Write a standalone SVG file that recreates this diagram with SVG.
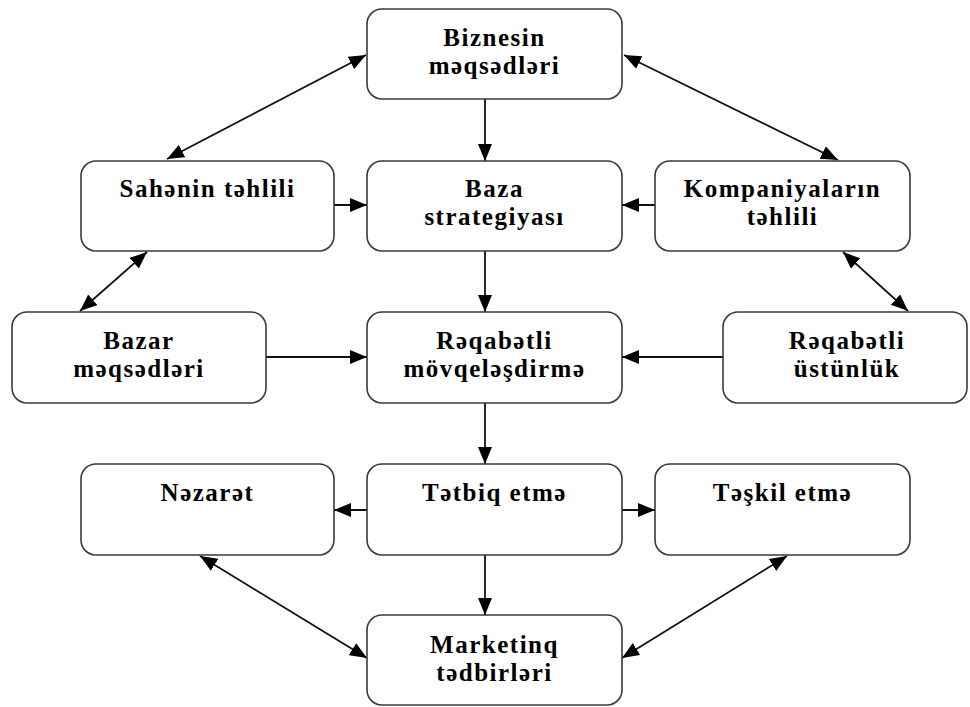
<svg xmlns="http://www.w3.org/2000/svg" width="970" height="707" viewBox="0 0 970 707">
  <style>
    .box { fill: #ffffff; stroke: #3a3a3a; stroke-width: 1.6; }
    .lbl { font-family: "Liberation Serif", "Times New Roman", serif; font-weight: bold; font-size: 25px; letter-spacing: 1.5px; fill: #000000; text-anchor: middle; }
    .con { stroke: #111111; stroke-width: 1.8; fill: none; }
  </style>
  <defs>
    <marker id="ah" markerUnits="userSpaceOnUse" markerWidth="17" markerHeight="14" refX="17" refY="7" orient="auto-start-reverse">
      <path d="M0,0 L17,7 L0,14 z" fill="#000000"/>
    </marker>
  </defs>
  <rect x="0" y="0" width="970" height="707" fill="#ffffff"/>

  <g id="connectors">
    <line class="con" x1="485" y1="99" x2="485" y2="161" marker-end="url(#ah)"/>
    <line class="con" x1="485" y1="251" x2="485" y2="312" marker-end="url(#ah)"/>
    <line class="con" x1="485" y1="403" x2="485" y2="464" marker-end="url(#ah)"/>
    <line class="con" x1="485" y1="555" x2="485" y2="615" marker-end="url(#ah)"/>
    <line class="con" x1="334" y1="205" x2="367" y2="205" marker-end="url(#ah)"/>
    <line class="con" x1="655" y1="205" x2="622" y2="205" marker-end="url(#ah)"/>
    <line class="con" x1="266" y1="357" x2="367" y2="357" marker-end="url(#ah)"/>
    <line class="con" x1="723" y1="357" x2="622" y2="357" marker-end="url(#ah)"/>
    <line class="con" x1="367" y1="510" x2="334" y2="510" marker-end="url(#ah)"/>
    <line class="con" x1="622" y1="510" x2="655" y2="510" marker-end="url(#ah)"/>
    <line class="con" x1="167" y1="159" x2="366" y2="55" marker-start="url(#ah)" marker-end="url(#ah)"/>
    <line class="con" x1="624" y1="55" x2="838" y2="160" marker-start="url(#ah)" marker-end="url(#ah)"/>
    <line class="con" x1="147" y1="252" x2="80" y2="311" marker-start="url(#ah)" marker-end="url(#ah)"/>
    <line class="con" x1="843" y1="252" x2="908" y2="311" marker-start="url(#ah)" marker-end="url(#ah)"/>
    <line class="con" x1="200" y1="556" x2="367" y2="658" marker-start="url(#ah)" marker-end="url(#ah)"/>
    <line class="con" x1="787" y1="556" x2="622" y2="658" marker-start="url(#ah)" marker-end="url(#ah)"/>
  </g>

  <g id="biznesin">
    <rect class="box" x="367" y="9" width="255" height="90" rx="15"/>
    <text class="lbl" x="494.5" y="46">Biznesin</text>
    <text class="lbl" x="494.5" y="74">məqsədləri</text>
  </g>
  <g id="sahenin">
    <rect class="box" x="81" y="161" width="253" height="90" rx="15"/>
    <text class="lbl" x="207.5" y="197">Sahənin təhlili</text>
  </g>
  <g id="baza">
    <rect class="box" x="367" y="161" width="255" height="90" rx="15"/>
    <text class="lbl" x="494.5" y="197">Baza</text>
    <text class="lbl" x="494.5" y="225">strategiyası</text>
  </g>
  <g id="kompaniyalarin">
    <rect class="box" x="655" y="161" width="255" height="90" rx="15"/>
    <text class="lbl" x="782.5" y="197">Kompaniyaların</text>
    <text class="lbl" x="782.5" y="225">təhlili</text>
  </g>
  <g id="bazar">
    <rect class="box" x="12" y="312" width="254" height="91" rx="15"/>
    <text class="lbl" x="139" y="349">Bazar</text>
    <text class="lbl" x="139" y="377">məqsədləri</text>
  </g>
  <g id="reqabetli-movqe">
    <rect class="box" x="367" y="312" width="255" height="91" rx="15"/>
    <text class="lbl" x="494.5" y="349">Rəqabətli</text>
    <text class="lbl" x="494.5" y="377">mövqeləşdirmə</text>
  </g>
  <g id="reqabetli-ustunluk">
    <rect class="box" x="723" y="312" width="244" height="91" rx="15"/>
    <text class="lbl" x="847" y="349">Rəqabətli</text>
    <text class="lbl" x="847" y="377">üstünlük</text>
  </g>
  <g id="nezaret">
    <rect class="box" x="81" y="464" width="253" height="91" rx="15"/>
    <text class="lbl" x="207.5" y="501">Nəzarət</text>
  </g>
  <g id="tetbiq">
    <rect class="box" x="367" y="464" width="255" height="91" rx="15"/>
    <text class="lbl" x="494.5" y="501">Tətbiq etmə</text>
  </g>
  <g id="teskil">
    <rect class="box" x="655" y="464" width="255" height="91" rx="15"/>
    <text class="lbl" x="782.5" y="501">Təşkil etmə</text>
  </g>
  <g id="marketinq">
    <rect class="box" x="367" y="615" width="255" height="90" rx="15"/>
    <text class="lbl" x="494.5" y="653">Marketinq</text>
    <text class="lbl" x="494.5" y="681">tədbirləri</text>
  </g>
</svg>
